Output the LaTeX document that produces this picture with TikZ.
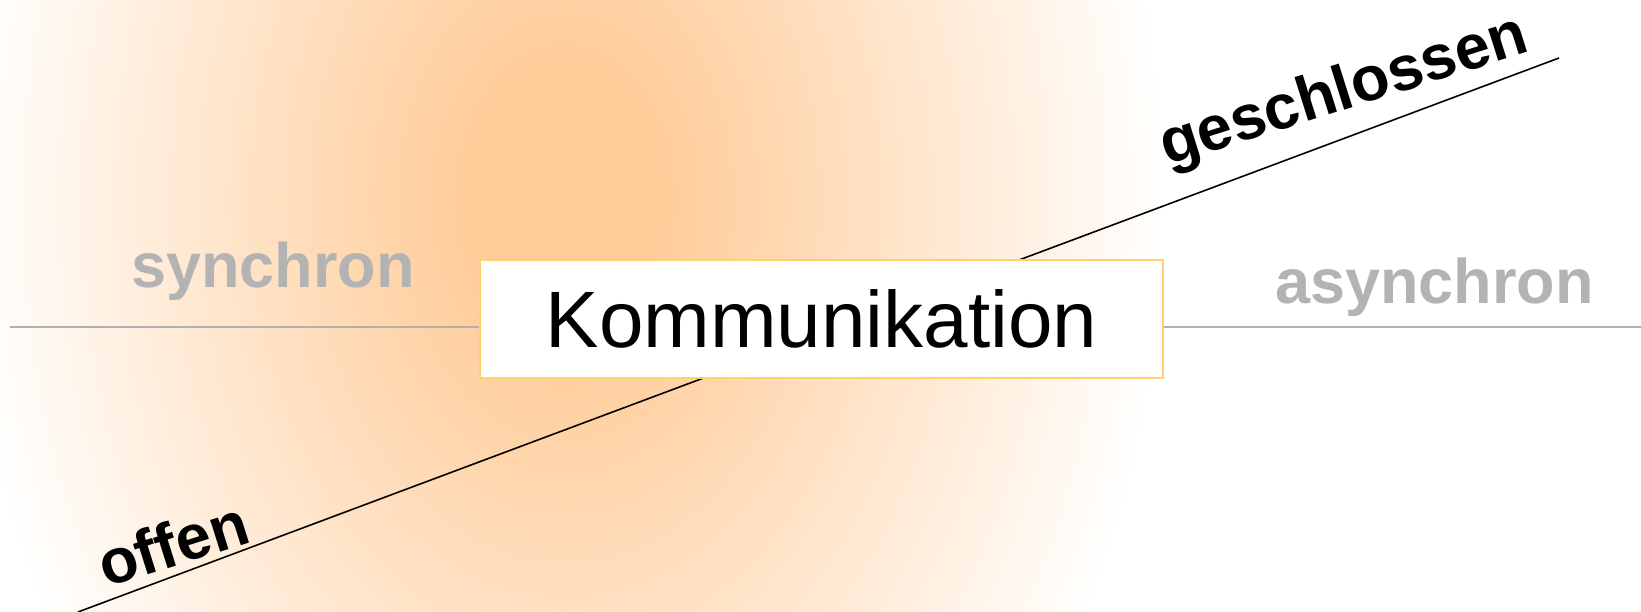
\documentclass[tikz,border=0pt]{standalone}
\usepackage{fontspec}
\setmainfont{Liberation Sans}
\definecolor{peach}{HTML}{FFCC99}
\definecolor{boxborder}{HTML}{FFD36B}
\definecolor{labelgray}{HTML}{B3B3B3}
\definecolor{linegray}{HTML}{B0B0B0}
\pgfdeclareradialshading{peachglow}{\pgfpoint{0bp}{0bp}}{color(0bp)=(peach); color(4bp)=(peach); color(25bp)=(white); color(50bp)=(white)}
\begin{document}
\begin{tikzpicture}[x=1pt,y=-1pt,
  graylabel/.style={inner sep=0pt, text=labelgray, font=\fontsize{63}{76}\selectfont\bfseries},
  blacklabel/.style={inner sep=0pt, text=black, font=\fontsize{63}{76}\selectfont\bfseries},
  mainbox/.style={draw=boxborder, line width=2pt, fill=white, minimum width=683pt, minimum height=118pt, inner sep=0pt, font=\fontsize{80}{96}\selectfont},
  grayline/.style={draw=linegray, line width=2pt},
  diagline/.style={draw=black, line width=1.6pt}]
\useasboundingbox (0,0) rectangle (1641,612);
\fill[white] (0,0) rectangle (1641,612);
\begin{scope}
  \clip (0,0) rectangle (1641,612);
  \shade[shading=peachglow] (565,200) ellipse [x radius=600, y radius=850];
\end{scope}
% axis lines
\coordinate (gl) at (10,327);
\coordinate (gr) at (1641,327);
\coordinate (d1) at (78,612);
\coordinate (d2) at (1559,58);
\draw[diagline] (d1) -- (d2);
\node[mainbox] (box) at (821.5,319) {Kommunikation};
\draw[grayline] (gl) -- (gl -| box.west);
\draw[grayline] (gr -| box.east) -- (gr);
% labels
\node[graylabel, anchor=base] (syn) at (273,288) {synchron};
\node[graylabel, anchor=base] (asyn) at (1434.5,304) {asynchron};
\node[blacklabel, anchor=base west, rotate=17.5] (off) at (106,588) {offen};
\node[blacklabel, anchor=base west, rotate=17.5] (ges) at (1167,166) {geschlossen};
\end{tikzpicture}
\end{document}
